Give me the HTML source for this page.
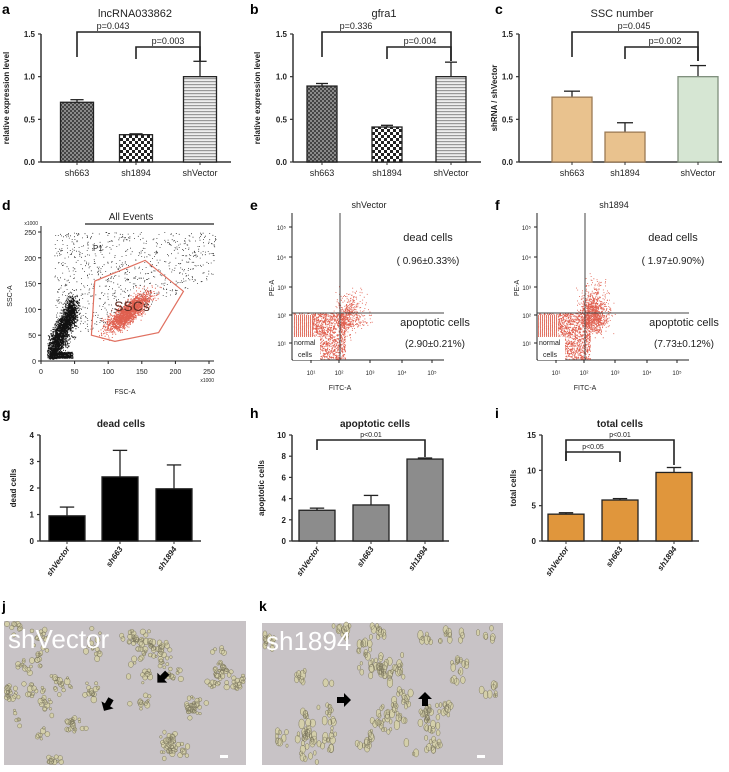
<!DOCTYPE html>
<html><head><meta charset="utf-8"><style>
html,body{margin:0;padding:0;background:#fff;}
svg{display:block;font-family:"Liberation Sans",Arial,sans-serif;}
</style></head><body>
<svg id="fig" width="729" height="772" viewBox="0 0 729 772" xmlns="http://www.w3.org/2000/svg">
<defs>
<pattern id="patA" width="4" height="4" patternUnits="userSpaceOnUse"><rect width="4" height="4" fill="#8a8a8a"/><rect width="2" height="2" fill="#444"/><rect x="2" y="2" width="2" height="2" fill="#444"/></pattern>
<pattern id="patB" width="6" height="6" patternUnits="userSpaceOnUse"><rect width="6" height="6" fill="#fff"/><rect width="3" height="3" fill="#222"/><rect x="3" y="3" width="3" height="3" fill="#222"/></pattern>
<pattern id="patC" width="4" height="3" patternUnits="userSpaceOnUse"><rect width="4" height="3" fill="#eee"/><rect width="4" height="1.2" fill="#999"/></pattern>
<pattern id="normalLines" width="2" height="4" patternUnits="userSpaceOnUse"><rect width="2" height="4" fill="#fff"/><rect width="1" height="4" fill="#e07060"/></pattern>
</defs>
</svg>
<script>
// ---- data ----
const catsTop = ['sh663','sh1894','shVector'];
const aVals = [0.70, 0.32, 1.00];
const aErr  = [0.03, 0.01, 0.18];
const bVals = [0.89, 0.41, 1.00];
const bErr  = [0.03, 0.02, 0.17];
const cVals = [0.76, 0.35, 1.00];
const cErr  = [0.07, 0.11, 0.13];
const topTicks = [0, 0.5, 1.0, 1.5];
const topTickLabels = ['0.0','0.5','1.0','1.5'];
const catsBottom = ['shVector','sh663','sh1894'];
const gVals = [0.95, 2.42, 1.97];
const gErr  = [0.33, 1.00, 0.90];
const gTicks = [0,1,2,3,4];
const hVals = [2.90, 3.40, 7.73];
const hErr  = [0.20, 0.90, 0.10];
const hTicks = [0,2,4,6,8,10];
const iVals = [3.80, 5.80, 9.70];
const iErr  = [0.20, 0.20, 0.70];
const iTicks = [0,5,10,15];
const dPolygon = [[80,155],[155,195],[212,135],[175,55],[110,38],[75,50]];
const dTicks = [0,50,100,150,200,250];
const flowTicks = ['10\u00b9','10\u00b2','10\u00b3','10\u2074','10\u2075'];

const svg = document.getElementById('fig');
const NS = 'http://www.w3.org/2000/svg';
function el(tag, attrs, parent){
  const e = document.createElementNS(NS, tag);
  for (const k in attrs) e.setAttribute(k, attrs[k]);
  (parent||svg).appendChild(e); return e;
}
function txt(x,y,s,size,opts){
  const t = el('text', Object.assign({x:x,y:y,'font-size':size,fill:'#222'}, opts||{}));
  t.textContent = s; return t;
}
// deterministic texture generator (for scatter/cell textures only)
let seed = 12345;
function rnd(){ seed = (seed*1103515245+12345) & 0x7fffffff; return seed/0x7fffffff; }
function gauss(){ return (rnd()+rnd()+rnd()+rnd()-2)/1.15; }

function panelLetter(x,y,s){
  const t = txt(x,y,s,14,{'font-weight':'bold',fill:'#000'});
  
  
}

function barChart(o){
  const g = el('g',{});
  
  
  const ys = v => o.yb - (v/o.max)*(o.yb-o.yt);
  const tt = txt(o.titleX, o.titleY, o.title, o.titleSize||11, {'text-anchor':'middle', 'font-weight':o.titleBold?'bold':'normal'});
   
  g.appendChild(tt);
  el('line',{x1:o.ax,y1:o.yt,x2:o.ax,y2:o.yb,stroke:'#333','stroke-width':1.5},g);
  el('line',{x1:o.ax,y1:o.yb,x2:o.xe,y2:o.yb,stroke:'#333','stroke-width':1.5},g);
  o.ticks.forEach((v,i)=>{
    const y = ys(v);
    el('line',{x1:o.ax-3,y1:y,x2:o.ax,y2:y,stroke:'#333','stroke-width':1.2},g);
    const t = txt(o.ax-6,y+3,o.tickLabels?o.tickLabels[i]:String(v),8,{'text-anchor':'end','font-weight':'bold'});
     
    g.appendChild(t);
  });
  const yl = txt(0,0,o.ylabel,8,{'text-anchor':'middle','font-weight':'bold',transform:`translate(${o.ylx},${(o.yt+o.yb)/2}) rotate(-90)`});
   
  g.appendChild(yl);
  o.vals.forEach((v,i)=>{
    const cx = o.centers[i], w = o.w;
    const y = ys(v), ye = ys(v+o.err[i]);
    el('line',{x1:cx,y1:y,x2:cx,y2:ye,stroke:'#222','stroke-width':1.3},g);
    el('line',{x1:cx-w*0.2,y1:ye,x2:cx+w*0.2,y2:ye,stroke:'#222','stroke-width':1.3},g);
    const r = el('rect',{x:cx-w/2,y:y,width:w,height:o.yb-y,fill:o.fills[i],stroke:o.strokes?o.strokes[i]:'#222','stroke-width':1.3},g);
    
    
    el('line',{x1:cx,y1:o.yb,x2:cx,y2:o.yb+3,stroke:'#333'},g);
    let lab;
    if (o.rot){
      lab = txt(0,0,o.cats[i],8,{'text-anchor':'end','font-weight':'bold','font-style':'italic',transform:`translate(${cx+3},${o.yb+8}) rotate(-55)`});
    } else {
      lab = txt(cx,o.yb+14,o.cats[i],9,{'text-anchor':'middle'});
    }
     
    g.appendChild(lab);
  });
  (o.brackets||[]).forEach(b=>{
    const x1=o.centers[b.i], x2=o.centers[b.j];
    el('polyline',{points:`${x1},${b.l1} ${x1},${b.y} ${x2},${b.y} ${x2},${b.l2}`,fill:'none',stroke:'#222','stroke-width':1.6},g);
    const bt = txt(b.tx!==undefined?b.tx:(x1+x2)/2, b.y-3, b.label, b.size||9, {'text-anchor':'middle'});
     
    g.appendChild(bt);
  });
}

// ---- top row ----
panelLetter(2,14,'a'); panelLetter(250,14,'b'); panelLetter(495,14,'c');
barChart({name:'chart-lncrna',title:'lncRNA033862',titleX:135,titleY:17,ax:41,xe:231,yt:34,yb:162,max:1.5,
  ticks:topTicks,tickLabels:topTickLabels,ylabel:'relative expression level',ylx:9,cats:catsTop,vals:aVals,err:aErr,
  centers:[77,136,200],w:33,fills:['url(#patA)','url(#patB)','url(#patC)'],
  brackets:[{i:0,j:2,y:32,l1:57,l2:61,label:'p=0.043',tx:113},{i:1,j:2,y:47,l1:59,l2:61,label:'p=0.003',tx:168}]});
barChart({name:'chart-gfra1',title:'gfra1',titleX:384,titleY:17,ax:293,xe:481,yt:34,yb:162,max:1.5,
  ticks:topTicks,tickLabels:topTickLabels,ylabel:'relative expression level',ylx:260,cats:catsTop,vals:bVals,err:bErr,
  centers:[322,387,451],w:30,fills:['url(#patA)','url(#patB)','url(#patC)'],
  brackets:[{i:0,j:2,y:32,l1:57,l2:61,label:'p=0.336',tx:356},{i:1,j:2,y:47,l1:59,l2:61,label:'p=0.004',tx:420}]});
barChart({name:'chart-ssc-number',title:'SSC number',titleX:622,titleY:17,ax:519,xe:722,yt:34,yb:162,max:1.5,
  ticks:topTicks,tickLabels:topTickLabels,ylabel:'shRNA / shVector',ylx:497,cats:catsTop,vals:cVals,err:cErr,
  centers:[572,625,698],w:40,fills:['#e9c28e','#e9c28e','#d6e6d3'],strokes:['#9b7a55','#9b7a55','#7f8f7c'],
  brackets:[{i:0,j:2,y:32,l1:57,l2:61,label:'p=0.045',tx:634},{i:1,j:2,y:47,l1:59,l2:61,label:'p=0.002',tx:665}]});

// ---- panel d ----
panelLetter(2,210,'d');
(function(){
  const g = el('g',{});  
  const x0=41,x1=209,y0=361,y1=232;
  const X = v => x0 + v/250*(x1-x0), Y = v => y0 - v/250*(y0-y1);
  const ttl = txt(131,220,'All Events',10,{'text-anchor':'middle'}); g.appendChild(ttl);
  el('line',{x1:85,y1:224,x2:214,y2:224,stroke:'#222','stroke-width':1.2},g);
  el('line',{x1:x0,y1:226,x2:x0,y2:y0,stroke:'#222'},g);
  el('line',{x1:x0,y1:y0,x2:214,y2:y0,stroke:'#222'},g);
  dTicks.forEach(v=>{
    el('line',{x1:x0-3,y1:Y(v),x2:x0,y2:Y(v),stroke:'#222'},g);
    g.appendChild(txt(x0-5,Y(v)+3,String(v),7,{'text-anchor':'end'}));
    el('line',{x1:X(v),y1:y0,x2:X(v),y2:y0+3,stroke:'#222'},g);
    g.appendChild(txt(X(v),y0+13,String(v),7,{'text-anchor':'middle'}));
  });
  g.appendChild(txt(38,225,'x1000',5,{'text-anchor':'end'}));
  g.appendChild(txt(214,382,'x1000',5,{'text-anchor':'end'}));
  g.appendChild(txt(125,394,'FSC-A',7,{'text-anchor':'middle'}));
  g.appendChild(txt(0,0,'SSC-A',7,{'text-anchor':'middle',transform:'translate(12,296) rotate(-90)'}));
  let pts='';
  for(let k=0;k<2400;k++){
    const t = rnd(); const fx = 14+ t*35 + gauss()*9, fy = 12 + t*95 + gauss()*28;
    if(fx>9&&fy>4&&fy<250) pts+=`M${X(fx).toFixed(1)} ${Y(fy).toFixed(1)}h1v1h-1z`;
  }
  for(let k=0;k<500;k++){ // band along bottom
    const fx = 12+rnd()*35, fy = 6+rnd()*12;
    pts+=`M${X(fx).toFixed(1)} ${Y(fy).toFixed(1)}h1v1h-1z`;
  }
  for(let k=0;k<1300;k++){
    const fx = 20+rnd()*240, fy = 30+rnd()*220;
    if(fy > fx*0.6+10) pts+=`M${X(fx).toFixed(1)} ${Y(fy).toFixed(1)}h.8v.8h-.8z`;
  }
  el('path',{d:pts,fill:'#111'},g);
  let rp='';
  for(let k=0;k<1800;k++){
    const t = gauss(); const fx = 130+t*28+gauss()*14, fy = 95+t*32+gauss()*16;
    if(fx>80&&fx<205&&fy>40&&fy<190) rp+=`M${X(fx).toFixed(1)} ${Y(fy).toFixed(1)}h1v1h-1z`;
  }
  el('path',{d:rp,fill:'#e06050'},g);
  const poly = el('polygon',{points:dPolygon.map(p=>X(p[0])+','+Y(p[1])).join(' '),fill:'none',stroke:'#e07060','stroke-width':1.2},g);
   
  g.appendChild(txt(132,311,'SSCs',14,{'text-anchor':'middle',fill:'#5a2a20'}));
  g.appendChild(txt(93,251,'P1',8,{fill:'#222'}));
})();

// ---- panels e, f ----
function flowPlot(o){
  const g = el('g',{});  
  const ax=o.ax, yb=360, yt=213, xe=ax+152, vx=ax+48, hy=313;
  g.appendChild(txt(ax+77,208,o.title,9,{'text-anchor':'middle'}));
  el('line',{x1:ax,y1:yt,x2:ax,y2:yb,stroke:'#222'},g);
  el('line',{x1:ax,y1:yb,x2:xe,y2:yb,stroke:'#222'},g);
  const yT=[343,315,287,257,227], xT=[19,47,78,110,140];
  yT.forEach((y,i)=>{ g.appendChild(txt(ax-6,y+3,flowTicks[i],6,{'text-anchor':'end'})); el('line',{x1:ax-3,y1:y,x2:ax,y2:y,stroke:'#222'},g);});
  xT.forEach((x,i)=>{ g.appendChild(txt(ax+x,375,flowTicks[i],6,{'text-anchor':'middle'})); el('line',{x1:ax+x,y1:yb,x2:ax+x,y2:yb+3,stroke:'#222'},g);});
  g.appendChild(txt(ax+48,390,'FITC-A',7,{'text-anchor':'middle'}));
  g.appendChild(txt(0,0,'PE-A',7,{'text-anchor':'middle',transform:`translate(${ax-18},288) rotate(-90)`}));
  let p='';
  for(let k=0;k<1600;k++){ const fx=ax+1+rnd()*52, fy=hy+rnd()*46; p+=`M${fx.toFixed(1)} ${fy.toFixed(1)}h1v1h-1z`; }
  for(let k=0;k<o.n;k++){ const t=gauss(); const fx=vx+2+Math.abs(t)*o.sx+gauss()*10, fy=hy+12-Math.abs(gauss())*o.sy+gauss()*12;
    if(fx<xe-10&&fy>yt+10&&fy<yb) p+=`M${fx.toFixed(1)} ${fy.toFixed(1)}h.9v.9h-.9z`; }
  el('path',{d:p,fill:'#e06050'},g);
  el('rect',{x:ax+1,y:hy+2,width:20,height:45,fill:'url(#normalLines)',opacity:0.9},g);
  el('rect',{x:ax+1,y:337,width:27,height:23,fill:'#fff'},g);
  g.appendChild(txt(ax+2,345,'normal',7,{}));
  g.appendChild(txt(ax+6,357,'cells',7,{}));
  el('line',{x1:vx,y1:yt,x2:vx,y2:yb,stroke:'#444','stroke-width':1},g);
  el('line',{x1:ax,y1:hy,x2:xe,y2:hy,stroke:'#444','stroke-width':1},g);
  const t1=txt(o.tx,241,'dead cells',11,{'text-anchor':'middle'});   g.appendChild(t1);
  g.appendChild(txt(o.tx,264,o.dead,10,{'text-anchor':'middle'}));
  const t2=txt(o.tx2,326,'apoptotic cells',11,{'text-anchor':'middle'});   g.appendChild(t2);
  g.appendChild(txt(o.tx2,347,o.apo,10,{'text-anchor':'middle'}));
}
panelLetter(250,210,'e'); panelLetter(495,210,'f');
flowPlot({name:'flow-shvector',ax:292,title:'shVector',tx:428,tx2:435,dead:'( 0.96\u00b10.33%)',apo:'(2.90\u00b10.21%)',n:500,sx:20,sy:26});
flowPlot({name:'flow-sh1894',ax:537,title:'sh1894',tx:673,tx2:684,dead:'( 1.97\u00b10.90%)',apo:'(7.73\u00b10.12%)',n:1200,sx:16,sy:32});

// ---- bottom bar row ----
panelLetter(2,418,'g'); panelLetter(250,418,'h'); panelLetter(495,418,'i');
barChart({name:'chart-dead-cells',title:'dead cells',titleX:121,titleY:427,titleBold:true,titleSize:10,ax:40,xe:201,yt:435,yb:541,max:4,
  ticks:gTicks,ylabel:'dead cells',ylx:16,cats:catsBottom,vals:gVals,err:gErr,centers:[67,120,174],w:36,rot:true,
  fills:['#000','#000','#000']});
barChart({name:'chart-apoptotic-cells',title:'apoptotic cells',titleX:375,titleY:427,titleBold:true,titleSize:10,ax:292,xe:449,yt:435,yb:541,max:10,
  ticks:hTicks,ylabel:'apoptotic cells',ylx:264,cats:catsBottom,vals:hVals,err:hErr,centers:[317,371,425],w:36,rot:true,
  fills:['#8c8c8c','#8c8c8c','#8c8c8c'],
  brackets:[{i:0,j:2,y:440,l1:450,l2:457,label:'p<0.01',size:7}]});
barChart({name:'chart-total-cells',title:'total cells',titleX:620,titleY:427,titleBold:true,titleSize:10,ax:542,xe:699,yt:435,yb:541,max:15,
  ticks:iTicks,ylabel:'total cells',ylx:516,cats:catsBottom,vals:iVals,err:iErr,centers:[566,620,674],w:36,rot:true,
  fills:['#e0963c','#e0963c','#e0963c'],
  brackets:[{i:0,j:2,y:440,l1:461,l2:465,label:'p<0.01',size:7},{i:0,j:1,y:452,l1:461,l2:462,label:'p<0.05',size:7}]});

// ---- micrographs ----
panelLetter(2,611,'j'); panelLetter(259,611,'k');
function photo(name,x,y,w,h,label,n,stretch){
  const g = el('g',{});  
  el('rect',{x:x,y:y,width:w,height:h,fill:'#c8c3c6'},g);
  let d='';
  const clusters=[];
  for(let c=0;c<40;c++) clusters.push([x+6+rnd()*(w-12), y+6+rnd()*(h-12)]);
  for(let k=0;k<n;k++){ const c=clusters[Math.floor(rnd()*clusters.length)];
    const cx=Math.min(x+w-3,Math.max(x+3,c[0]+gauss()*9)), cy=Math.min(y+h-3,Math.max(y+3,c[1]+gauss()*9)), r=1.2+rnd()*1.6;
    d+=`M${(cx-r).toFixed(1)} ${cy.toFixed(1)}a${r.toFixed(1)} ${(r*stretch).toFixed(1)} 0 1 0 ${(2*r).toFixed(1)} 0a${r.toFixed(1)} ${(r*stretch).toFixed(1)} 0 1 0 ${(-2*r).toFixed(1)} 0z`; }
  el('path',{d:d,fill:'#d4cfaa',stroke:'#7d7860','stroke-width':0.5},g);
  g.appendChild(txt(x+4,y+27,label,26,{fill:'#fff'}));
  el('rect',{x:x+w-26,y:y+h-10,width:8,height:3,fill:'#fff'},g);
}
photo('micrograph-shvector',4,621,242,144,'shVector',420,1);
photo('micrograph-sh1894',262,623,241,142,'sh1894',340,1.5);
function arrow(x,y,rot,name){
  const a = el('polygon',{points:'-6,-3 1,-3 1,-7 8,0 1,7 1,3 -6,3',fill:'#000',transform:`translate(${x},${y}) rotate(${rot})`});
   
}
arrow(163,677,135,'arrow-1'); arrow(108,704,120,'arrow-2');
arrow(343,700,0,'arrow-3'); arrow(425,700,-90,'arrow-4');
</script>
</body></html>
